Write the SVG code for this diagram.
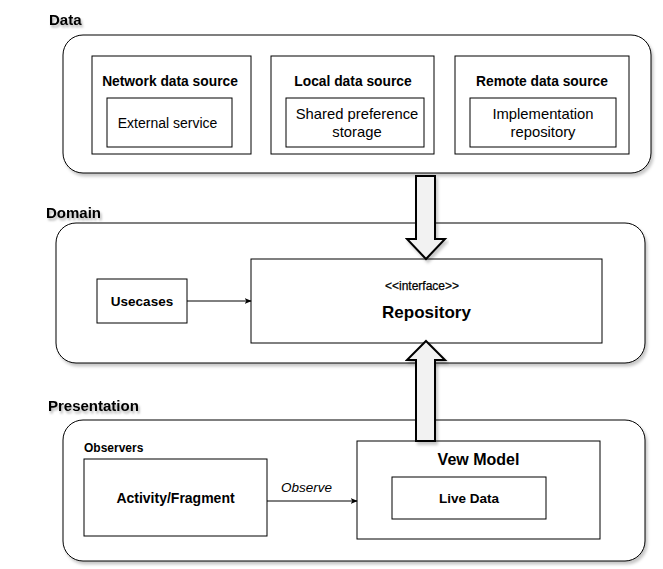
<svg xmlns="http://www.w3.org/2000/svg" width="663" height="569" viewBox="0 0 663 569">
  <defs>
    <filter id="sh" x="-5%" y="-5%" width="115%" height="125%">
      <feDropShadow dx="2" dy="3" stdDeviation="1.5" flood-color="#000" flood-opacity="0.22"/>
    </filter>
    <filter id="tsh" x="-10%" y="-30%" width="130%" height="180%">
      <feDropShadow dx="1.5" dy="2.5" stdDeviation="1.2" flood-color="#000" flood-opacity="0.3"/>
    </filter>
    <marker id="arr" viewBox="0 0 10 10" refX="9" refY="5" markerWidth="7" markerHeight="7" orient="auto" markerUnits="userSpaceOnUse">
      <path d="M0,1 L10,5 L0,9 L2.5,5 Z" fill="#000"/>
    </marker>
    <style>
      text { font-family: "Liberation Sans", Arial, sans-serif; fill: #000; }
      .layer { font-size: 15px; font-weight: bold; }
      .cont { fill: #fff; stroke: #000; stroke-width: 1; }
      .box { fill: #fff; stroke: #000; stroke-width: 1; }
      .title { font-size: 13.8px; font-weight: bold; text-anchor: middle; }
      .body { font-size: 14px; text-anchor: middle; }
      .body2 { font-size: 14.8px; text-anchor: middle; }
      .bold { font-weight: bold; text-anchor: middle; }
      .block { fill: #f2f2f2; stroke: #000; stroke-width: 2; stroke-linejoin: miter; }
      .conn { stroke: #000; stroke-width: 1; fill: none; }
    </style>
  </defs>

  <!-- Data layer -->
  <g id="data-layer">
    <text class="layer" x="49" y="25" filter="url(#tsh)">Data</text>
    <rect class="cont" x="63" y="35" width="588" height="138" rx="20" ry="20" filter="url(#sh)"/>
  </g>
  <g id="network-data-source">
    <rect class="box" x="92" y="56" width="159" height="98"/>
    <text class="title" x="170" y="86">Network data source</text>
  </g>
  <g id="external-service">
    <rect class="box" x="107" y="98" width="125" height="49"/>
    <text class="body" x="167.5" y="128">External service</text>
  </g>
  <g id="local-data-source">
    <rect class="box" x="271" y="56" width="163" height="98"/>
    <text class="title" x="353" y="86">Local data source</text>
  </g>
  <g id="shared-preference-storage">
    <rect class="box" x="286" y="98" width="138" height="49"/>
    <text class="body2" x="357" y="119">Shared preference</text>
    <text class="body2" x="357" y="137">storage</text>
  </g>
  <g id="remote-data-source">
    <rect class="box" x="455" y="56" width="174" height="98"/>
    <text class="title" x="542" y="86">Remote data source</text>
  </g>
  <g id="implementation-repository">
    <rect class="box" x="470" y="98" width="146" height="49"/>
    <text class="body2" x="543" y="119">Implementation</text>
    <text class="body2" x="543" y="137">repository</text>
  </g>

  <!-- Domain layer -->
  <g id="domain-layer">
    <text class="layer" x="46" y="218" filter="url(#tsh)">Domain</text>
    <rect class="cont" x="56" y="223" width="589" height="140" rx="20" ry="20" filter="url(#sh)"/>
  </g>
  <g id="usecases">
    <rect class="box" x="97" y="279" width="90" height="44"/>
    <text class="bold" x="142" y="306" font-size="13.5">Usecases</text>
  </g>
  <g id="repository">
    <rect class="box" x="251" y="259" width="351" height="84"/>
    <text x="422" y="290" font-size="12" text-anchor="middle" stroke="#000" stroke-width="0.25">&lt;&lt;interface&gt;&gt;</text>
    <text class="bold" x="426.5" y="318" font-size="17">Repository</text>
  </g>

  <!-- Presentation layer -->
  <g id="presentation-layer">
    <text class="layer" x="48" y="411" filter="url(#tsh)">Presentation</text>
    <rect class="cont" x="63" y="420" width="582" height="141" rx="20" ry="20" filter="url(#sh)"/>
    <text x="84" y="452" font-size="12" font-weight="bold">Observers</text>
  </g>
  <g id="activity-fragment">
    <rect class="box" x="84" y="459" width="183" height="77"/>
    <text class="bold" x="175.5" y="503" font-size="14">Activity/Fragment</text>
  </g>
  <g id="view-model">
    <rect class="box" x="357" y="441" width="243" height="98"/>
    <text class="bold" x="478.5" y="465" font-size="16">Vew Model</text>
  </g>
  <g id="live-data">
    <rect class="box" x="392" y="477" width="154" height="42"/>
    <text class="bold" x="469" y="503" font-size="13.5">Live Data</text>
  </g>

  <!-- Connectors -->
  <g id="connectors">
    <polygon class="block" filter="url(#sh)" points="416,176 435,176 435,239 445,239 426,259 407,239 416,239"/>
    <polygon class="block" filter="url(#sh)" points="426,341 445,360 435,360 435,441 416,441 416,360 407,360"/>
    <line class="conn" x1="187" y1="301" x2="251" y2="301" marker-end="url(#arr)"/>
    <line class="conn" x1="267" y1="501" x2="357" y2="501" marker-end="url(#arr)"/>
    <text x="281" y="492" font-size="13.5" font-style="italic">Observe</text>
  </g>
</svg>
